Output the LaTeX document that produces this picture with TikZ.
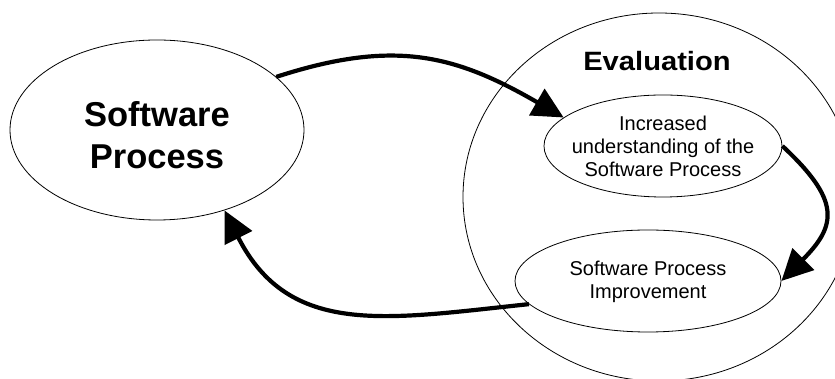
\documentclass[tikz,border=0pt]{standalone}
\usepackage{fontspec}
\setmainfont{Liberation Sans}
\usetikzlibrary{shapes.geometric,arrows.meta}

\tikzset{
  blob/.style={ellipse, draw=black, line width=0.8pt, inner sep=0pt, fill=white},
  flow/.style={line width=4.2pt, -{Triangle[length=31pt,width=30pt]}},
  bigtitle/.style={font=\bfseries\fontsize{34.5}{42}\selectfont, align=center, inner sep=0pt},
  grouptitle/.style={font=\bfseries\fontsize{26.5}{32}\selectfont, inner sep=0pt},
  stepcaption/.style={font=\fontsize{20}{23}\selectfont, align=center, inner sep=0pt},
}

\begin{document}
\begin{tikzpicture}[x=1pt,y=1pt]
  \useasboundingbox (0,0) rectangle (835,379);

  % outer evaluation region and the process ellipse
  \node[blob, fill=none, minimum width=392pt, minimum height=368pt] (eval) at (659,182) {};
  \node[blob, minimum width=294pt, minimum height=180pt] (sp) at (157,249) {};

  % inner steps of the evaluation
  \node[blob, minimum width=238pt, minimum height=102pt] (inc) at (663,233) {};
  \node[blob, minimum width=266pt, minimum height=102pt] (imp) at (648,98) {};

  % labels
  \node[bigtitle] (sptext) at (157,244) {Software\\Process};
  \node[grouptitle] (evaltext) at (657,317.5) {\scalebox{1.1}[1]{Evaluation}};
  \node[stepcaption] (inctext) at (663,233) {Increased\\understanding of the\\Software Process};
  \node[stepcaption] (imptext) at (648,97) {Software Process\\Improvement};

  % cycle arrows
  \draw[flow] (sp.24) to[out=18,in=150,looseness=1.1] (inc.164);
  \draw[flow] (inc.0) to[out=-43,in=45,looseness=1.5] (imp.0);
  \draw[flow] (imp.191) to[out=186,in=297,looseness=1.15] (sp.310);
\end{tikzpicture}
\end{document}
